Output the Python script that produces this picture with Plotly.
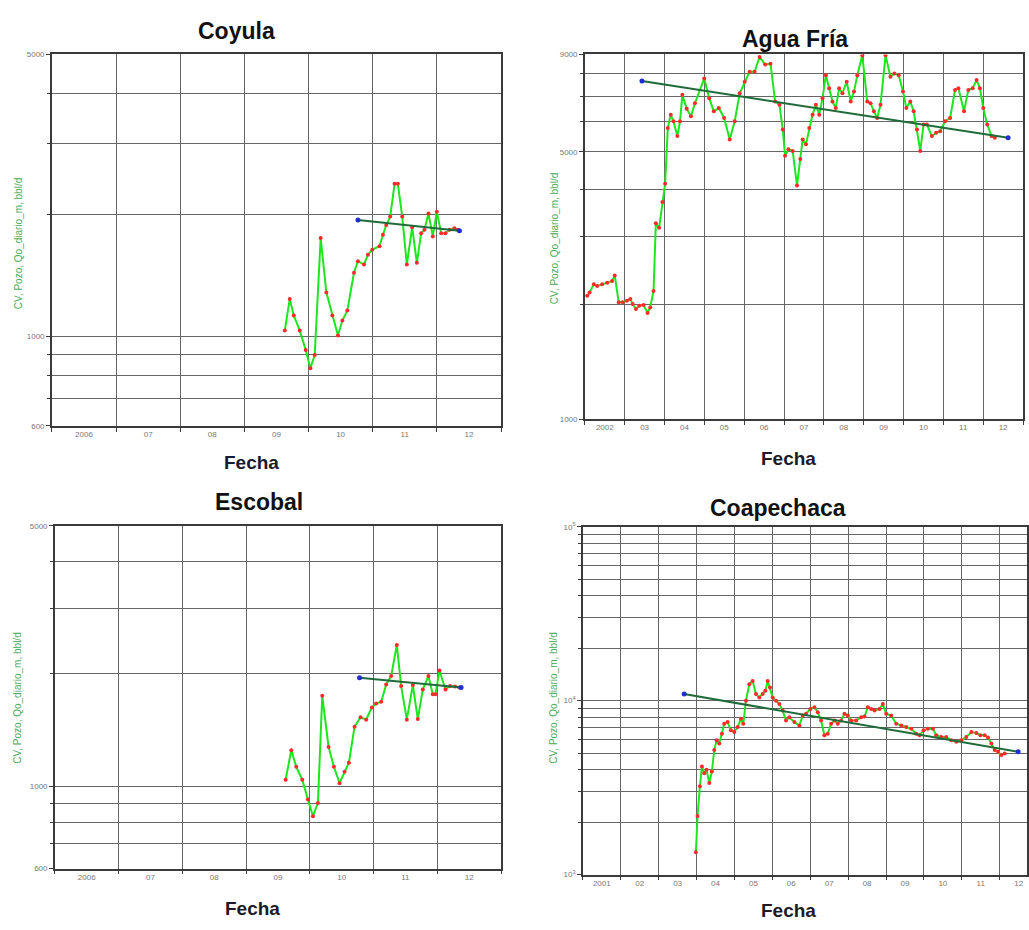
import plotly.graph_objects as go
import math

# ---------------- DATA (decimal years, values) ----------------
coyula_t = [2009.630, 2009.707, 2009.770, 2009.863, 2009.956, 2010.029, 2010.096, 2010.189,
            2010.278, 2010.371, 2010.459, 2010.527, 2010.604, 2010.708, 2010.770, 2010.864,
            2010.926, 2010.993, 2011.107, 2011.159, 2011.211, 2011.273, 2011.341, 2011.392,
            2011.460, 2011.532, 2011.615, 2011.688, 2011.755, 2011.807, 2011.869, 2011.937,
            2011.999, 2012.067, 2012.134, 2012.196, 2012.274, 2012.326]
coyula_q = [1035, 1238, 1127, 1035, 925, 834, 899, 1753,
            1285, 1127, 1006, 1095, 1159, 1438, 1537, 1507,
            1595, 1641, 1673, 1786, 1889, 1982, 2390, 2390,
            1982, 1507, 1865, 1522, 1803, 1838, 2018, 1770,
            2037, 1803, 1803, 1838, 1855, 1838]
coyula_trend_t = [2010.770, 2012.352]
coyula_trend_q = [1944, 1827]

escobal_t = [2009.620, 2009.709, 2009.787, 2009.881, 2009.970, 2010.049, 2010.127, 2010.195,
             2010.294, 2010.378, 2010.467, 2010.545, 2010.613, 2010.702, 2010.796, 2010.884,
             2010.973, 2011.041, 2011.120, 2011.198, 2011.276, 2011.365, 2011.433, 2011.522,
             2011.616, 2011.694, 2011.773, 2011.861, 2011.929, 2011.971, 2012.034, 2012.128,
             2012.201, 2012.279, 2012.347]
escobal_q = [1040, 1248, 1127, 1040, 920, 830, 901, 1747,
             1274, 1127, 1018, 1093, 1155, 1444, 1530, 1508,
             1626, 1667, 1683, 1875, 1974, 2393, 1856, 1508,
             1868, 1513, 1818, 1974, 1764, 1764, 2043, 1818,
             1856, 1850, 1840]
escobal_trend_t = [2010.780, 2012.373]
escobal_trend_q = [1953, 1840]

agua_t = [2002.060, 2002.118, 2002.226, 2002.309, 2002.434, 2002.559, 2002.684, 2002.750,
          2002.850, 2002.950, 2003.058, 2003.141, 2003.200, 2003.283, 2003.366, 2003.474,
          2003.574, 2003.641, 2003.724, 2003.782, 2003.865, 2003.948, 2004.015, 2004.082,
          2004.156, 2004.223, 2004.323, 2004.389, 2004.448, 2004.556, 2004.664, 2004.764,
          2004.997, 2005.121, 2005.238, 2005.363, 2005.496, 2005.637, 2005.762, 2005.887,
          2006.012, 2006.136, 2006.261, 2006.386, 2006.527, 2006.661, 2006.777, 2006.885,
          2006.968, 2007.027, 2007.110, 2007.218, 2007.326, 2007.409, 2007.468, 2007.551,
          2007.634, 2007.717, 2007.800, 2007.884, 2007.967, 2008.050, 2008.133, 2008.216,
          2008.300, 2008.383, 2008.466, 2008.574, 2008.674, 2008.757, 2008.840, 2008.965,
          2009.090, 2009.173, 2009.256, 2009.339, 2009.423, 2009.548, 2009.672, 2009.772,
          2009.880, 2009.988, 2010.071, 2010.171, 2010.255, 2010.338, 2010.421, 2010.504,
          2010.587, 2010.712, 2010.820, 2010.920, 2011.045, 2011.170, 2011.294, 2011.378,
          2011.519, 2011.627, 2011.735, 2011.835, 2011.918, 2012.002, 2012.101, 2012.210,
          2012.293]
agua_q = [2101, 2143, 2252, 2230, 2252, 2275, 2297, 2376,
          2020, 2020, 2040, 2060, 2000, 1941, 1980, 1988,
          1895, 1960, 2164, 3252, 3169, 3700, 4126, 5781,
          6261, 6015, 5501, 6015, 7053, 6487, 6198, 6708,
          7787, 6915, 6387, 6515, 6138, 5394, 6015, 7123,
          7635, 8102, 8102, 8860, 8466, 8513, 6776, 6643,
          5726, 4884, 5082, 5031, 4085, 4789, 5394, 5236,
          5781, 6261, 6643, 6261, 6915, 7943, 7338, 6776,
          6515, 7338, 7123, 7635, 6776, 7194, 7943, 8948,
          6776, 6708, 6387, 6138, 6643, 8950, 7865, 8022,
          7943, 7194, 6515, 6776, 6387, 5726, 5031, 5897,
          5897, 5501, 5611, 5667, 6015, 6138, 7264, 7338,
          6387, 7264, 7338, 7709, 7338, 6515, 5897, 5501,
          5447]
agua_trend_t = [2003.433, 2012.626]
agua_trend_q = [7664, 5447]

coap_t = [2003.982, 2004.026, 2004.088, 2004.141, 2004.203, 2004.264, 2004.335, 2004.405,
          2004.467, 2004.529, 2004.599, 2004.670, 2004.731, 2004.819, 2004.907, 2004.996,
          2005.084, 2005.172, 2005.233, 2005.304, 2005.392, 2005.480, 2005.568, 2005.656,
          2005.744, 2005.815, 2005.877, 2005.938, 2006.009, 2006.097, 2006.185, 2006.273,
          2006.361, 2006.449, 2006.581, 2006.714, 2006.802, 2006.890, 2007.004, 2007.110,
          2007.198, 2007.286, 2007.374, 2007.463, 2007.551, 2007.639, 2007.727, 2007.815,
          2007.903, 2007.991, 2008.079, 2008.211, 2008.344, 2008.432, 2008.520, 2008.608,
          2008.696, 2008.828, 2008.916, 2009.004, 2009.137, 2009.269, 2009.401, 2009.533,
          2009.665, 2009.797, 2009.885, 2009.991, 2010.106, 2010.238, 2010.326, 2010.458,
          2010.590, 2010.722, 2010.855, 2010.987, 2011.119, 2011.251, 2011.383, 2011.489,
          2011.604, 2011.692, 2011.780, 2011.868, 2011.956, 2012.044, 2012.132]
coap_q = [1345, 2174, 3218, 4180, 3831, 4002, 3362, 3915,
          5200, 5925, 5673, 6465, 7368, 7532, 6753, 6609,
          7054, 7868, 7368, 10000, 12435, 12990, 10911, 10445,
          10911, 11398, 12990, 11908, 10445, 10000, 9574, 8773,
          7697, 8040, 7532, 7211, 8220, 8400, 8967, 9166,
          8585, 7697, 6325, 6465, 7368, 7697, 7368, 7697,
          8400, 8220, 7697, 7697, 8040, 8113, 9166, 8967,
          8773, 8967, 9574, 8400, 8220, 7368, 7211, 7054,
          6902, 6465, 6325, 6753, 6902, 6902, 6325, 6190,
          6190, 5925, 5800, 5925, 6190, 6609, 6523, 6325,
          6325, 6137, 5673, 5200, 5087, 4870, 4977]
coap_trend_t = [2003.674, 2012.485]
coap_trend_q = [10911, 5087]

titles = ["Coyula", "Agua Fría", "Escobal", "Coapechaca"]
coyula_ticks = ["2006", "07", "08", "09", "10", "11", "12"]
agua_ticks = ["2002", "03", "04", "05", "06", "07", "08", "09", "10", "11", "12"]
coap_ticks = ["2001", "02", "03", "04", "05", "06", "07", "08", "09", "10", "11", "12"]
ytitle = "CV, Pozo, Qo_diario_m, bbl/d"

# ---------------- FIGURE ----------------
W, H = 1029, 930
fig = go.Figure()

GRID = "#666666"
AX = "#3a3a3a"
LINE_G = "#1ee61e"
MARK_R = "#ff2a2a"
TREND = "#1f6b3a"
BLUE = "#1f2fd0"


def px_x(p):
    return p / W


def px_y(p):
    return 1 - p / H


panels = [
    dict(t=coyula_t, q=coyula_q, tt=coyula_trend_t, tq=coyula_trend_q,
         xr=[2006, 2013], first=2006, ticks=coyula_ticks,
         yr=[600, 5000], yt=[600, 1000, 5000], ytt=["600", "1000", "5000"],
         ym=[700, 800, 900, 2000, 3000, 4000],
         dom=(52, 502, 49, 425), title=(237, 25), fecha=(252, 462), ylab=(18, 240)),
    dict(t=agua_t, q=agua_q, tt=agua_trend_t, tq=agua_trend_q,
         xr=[2002, 2013], first=2002, ticks=agua_ticks,
         yr=[1000, 9000], yt=[1000, 5000, 9000], ytt=["1000", "5000", "9000"],
         ym=[2000, 3000, 4000, 6000, 7000, 8000],
         dom=(586, 1025, 49, 418), title=(797, 33), fecha=(790, 458), ylab=(555, 235)),
    dict(t=escobal_t, q=escobal_q, tt=escobal_trend_t, tq=escobal_trend_q,
         xr=[2006, 2013], first=2006, ticks=coyula_ticks,
         yr=[600, 5000], yt=[600, 1000, 5000], ytt=["600", "1000", "5000"],
         ym=[700, 800, 900, 2000, 3000, 4000],
         dom=(55, 502, 526, 873), title=(260, 502), fecha=(253, 913), ylab=(18, 700)),
    dict(t=coap_t, q=coap_q, tt=coap_trend_t, tq=coap_trend_q,
         xr=[2001, 2012.72], first=2001, ticks=coap_ticks,
         yr=[1000, 100000], yt=[1000, 10000, 100000], ytt=["10<sup>3</sup>", "10<sup>4</sup>", "10<sup>5</sup>"],
         ym=[m * 10 ** e for e in (3, 4) for m in range(2, 10)],
         dom=(584, 1029, 527, 879), title=(780, 508), fecha=(790, 915), ylab=(555, 700)),
]

for i, p in enumerate(panels):
    n = i + 1
    xa = "x" if n == 1 else f"x{n}"
    ya = "y" if n == 1 else f"y{n}"
    fig.add_trace(go.Scatter(x=p["t"], y=p["q"], mode="lines+markers", xaxis=xa, yaxis=ya,
                             line=dict(color=LINE_G, width=2),
                             marker=dict(color=MARK_R, size=4), showlegend=False))
    fig.add_trace(go.Scatter(x=p["tt"], y=p["tq"], mode="lines+markers", xaxis=xa, yaxis=ya,
                             line=dict(color=TREND, width=2),
                             marker=dict(color=BLUE, size=5), showlegend=False))
    x0, x1, y0, y1 = p["dom"]
    nyears = len(p["ticks"])
    mids = [p["first"] + k + 0.5 for k in range(nyears)]
    years = [p["first"] + k for k in range(nyears + 1)]
    xkey = "xaxis" if n == 1 else f"xaxis{n}"
    ykey = "yaxis" if n == 1 else f"yaxis{n}"
    fig.update_layout(**{
        xkey: dict(domain=[px_x(x0), px_x(x1)], anchor=ya, range=p["xr"],
                   tickmode="array", tickvals=mids, ticktext=p["ticks"],
                   showgrid=False, ticks="", zeroline=False,
                   tickfont=dict(family="Liberation Sans", size=8, color="#777777"),
                   showline=True, linecolor=AX, linewidth=1.5, mirror=True,
                   minor=dict(tickmode="array", tickvals=years, showgrid=True,
                              gridcolor=GRID, gridwidth=1.2, ticks="outside",
                              ticklen=4, tickcolor=AX)),
        ykey: dict(domain=[px_y(y1), px_y(y0)], anchor=xa, type="log",
                   range=[math.log10(p["yr"][0]), math.log10(p["yr"][1])],
                   tickmode="array", tickvals=p["yt"], ticktext=p["ytt"],
                   showgrid=True, gridcolor=GRID, gridwidth=1.2, zeroline=False,
                   ticks="outside", ticklen=4, tickcolor=AX,
                   tickfont=dict(family="Liberation Sans", size=8, color="#777777"),
                   showline=True, linecolor=AX, linewidth=1.5, mirror=True,
                   minor=dict(tickmode="array", tickvals=p["ym"], showgrid=True,
                              gridcolor=GRID, gridwidth=1.2, ticks="outside",
                              ticklen=3, tickcolor=AX)),
    })
    tx, ty = p["title"]
    fig.add_annotation(text=f"<b>{titles[i]}</b>", x=px_x(tx), y=px_y(ty), xref="paper", yref="paper",
                       showarrow=False, xanchor="center", yanchor="middle",
                       font=dict(family="Liberation Sans", size=23, color="#111111"))
    fx, fy = p["fecha"]
    fig.add_annotation(text="<b>Fecha</b>", x=px_x(fx), y=px_y(fy), xref="paper", yref="paper",
                       showarrow=False, xanchor="center", yanchor="middle",
                       font=dict(family="Liberation Sans", size=19, color="#1a1a2a"))
    lx, ly = p["ylab"]
    fig.add_annotation(text=ytitle, x=px_x(lx), y=px_y(ly), xref="paper", yref="paper",
                       showarrow=False, xanchor="center", yanchor="middle", textangle=-90,
                       font=dict(family="Liberation Sans", size=10, color="#4aaa5a"))

fig.update_layout(width=W, height=H, margin=dict(l=0, r=0, t=0, b=0),
                  paper_bgcolor="white", plot_bgcolor="white", showlegend=False)

fig.write_html("out.html")
